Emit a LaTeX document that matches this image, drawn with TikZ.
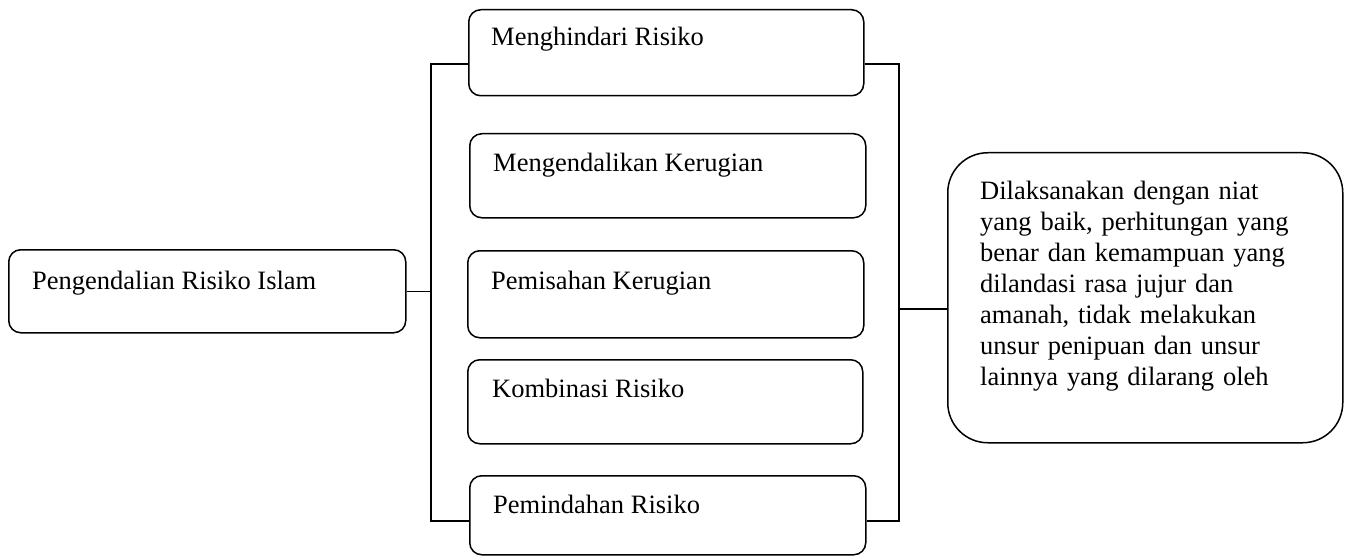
\documentclass[tikz,border=0pt]{standalone}
\usepackage{fontspec}
\setmainfont{Liberation Serif}
\begin{document}
\begin{tikzpicture}[x=1pt,y=-1pt,
  box/.style={draw=black,line width=1.5pt,rounded corners=12pt,inner sep=0pt,anchor=north west},
  bigbox/.style={box,rounded corners=40pt},
  lbl/.style={inner sep=0pt,anchor=base west,font=\fontsize{26.5}{31}\selectfont},
  conn/.style={draw=black,line width=1.5pt}]
\useasboundingbox (0,0) rectangle (1346,556);
% boxes
\node[box,minimum width=397pt,minimum height=83pt] (L) at (8,249) {};
\node[box,minimum width=395pt,minimum height=86pt] (B1) at (468,9) {};
\node[box,minimum width=396pt,minimum height=84pt] (B2) at (469,133) {};
\node[box,minimum width=396pt,minimum height=87pt] (B3) at (467,250) {};
\node[box,minimum width=395pt,minimum height=84pt] (B4) at (467,359) {};
\node[box,minimum width=396pt,minimum height=79pt] (B5) at (469,475) {};
\node[bigbox,minimum width=395pt,minimum height=290pt] (R) at (947,152) {};
% texts
\node[lbl] (tL) at (32,289) {Pengendalian Risiko Islam};
\node[lbl] (t1) at (491,46) {Menghindari Risiko};
\node[lbl] (t2) at (493,172) {Mengendalikan Kerugian};
\node[lbl] (t3) at (491,289) {Pemisahan Kerugian};
\node[lbl] (t4) at (492,397) {Kombinasi Risiko};
\node[lbl] (t5) at (493,513) {Pemindahan Risiko};
\node[lbl,text width=350pt,align=left] (tR) at (980,200) {Dilaksanakan dengan niat\\yang baik, perhitungan yang\\benar dan kemampuan yang\\dilandasi rasa jujur dan\\amanah, tidak melakukan\\unsur penipuan dan unsur\\lainnya yang dilarang oleh};
% brackets
\coordinate (lt) at (431,64);
\coordinate (lb) at (431,521);
\coordinate (rt) at (899,64);
\coordinate (rb) at (899,521);
\coordinate (rm) at (899,309);
\draw[conn] (B1.west |- lt) -- (lt) -- (lb) -- (B5.west |- lb);
\draw[conn] (B1.east |- rt) -- (rt) -- (rb) -- (B5.east |- rb);
\draw[conn] (L.east) -- (L.east -| lt);
\draw[conn] (rm) -- (R.west |- rm);
\end{tikzpicture}
\end{document}
